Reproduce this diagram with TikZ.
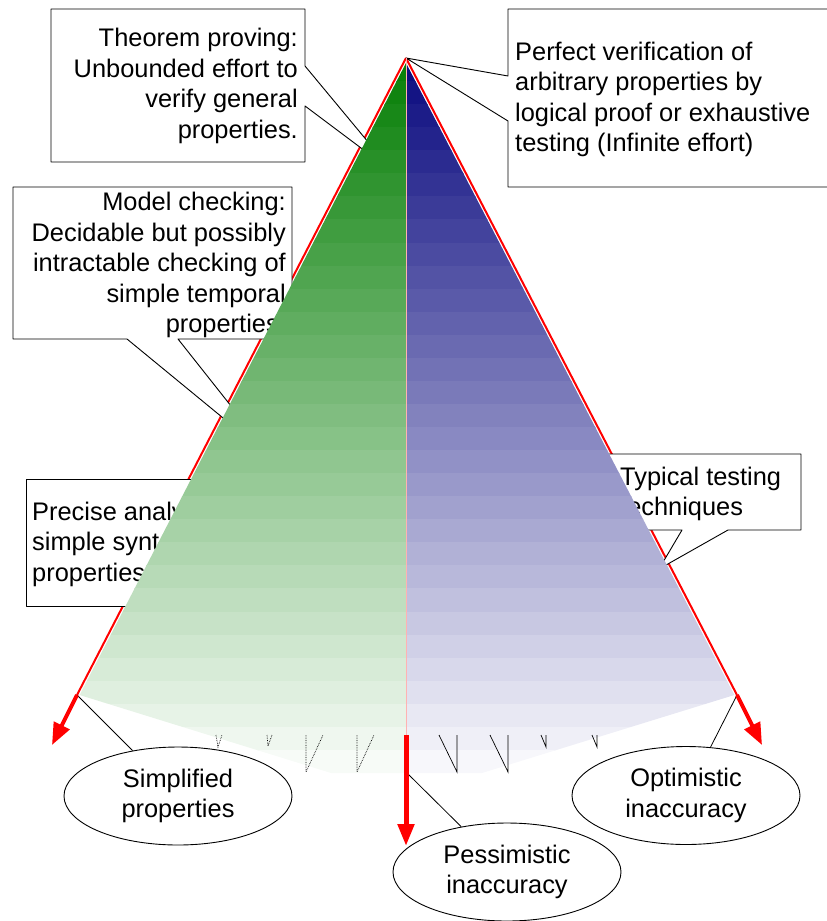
\documentclass[tikz,border=0pt]{standalone}
\usepackage{fontspec}
\setmainfont{Liberation Sans}
\usetikzlibrary{arrows.meta,shapes.geometric}
\definecolor{grn}{RGB}{8,128,8}
\definecolor{blu}{RGB}{12,12,128}
\begin{document}
\begin{tikzpicture}[x=1pt,y=-1pt,
  txt/.style={font=\fontsize{25.4}{30.5}\selectfont, inner sep=0pt},
  callout/.style={draw=black, line width=0.9pt, fill=white, line join=round},
  redge/.style={draw=red, line width=2pt},
  bigarrow/.style={draw=red, line width=4pt, -{Triangle[length=22pt,width=17pt]}},
  oval/.style={draw=black, line width=0.9pt, fill=white, ellipse, minimum width=228pt,
    minimum height=98pt, inner sep=0pt, align=center, font=\fontsize{25.4}{30.5}\selectfont},
  tick/.style={draw=black, line width=0.7pt},
  dtick/.style={draw=black, line width=0.7pt, densely dotted},
  ptr/.style={draw=black, line width=0.8pt}
]
\useasboundingbox (0,0) rectangle (827,921);

% key points of the pyramid
\coordinate (apex) at (406,58);
\coordinate (cl) at (77,695);
\coordinate (cr) at (737,695);
\coordinate (fapex) at (406,63);
\coordinate (fl) at (79.6,695);
\coordinate (fr) at (734.4,695);
\coordinate (bl) at (331,773);
\coordinate (br) at (482,773);
\coordinate (mid) at (406,772);
\coordinate (midarrow) at (406,735);
\coordinate (tl) at (52,745);
\coordinate (tr) at (762,745);
\coordinate (tm) at (406,846);

% thin red edges
\draw[redge] (apex) -- (cl);
\draw[redge] (apex) -- (cr);

% callout boxes (under the pyramid)
\path[callout] (51,9) -- (305,9) -- (305,66) -- (393,172) -- (305,106) -- (305,162) -- (51,162) -- cycle;
\node[txt, anchor=north east, align=right] (tp) at (298,25.35)
  {\strut Theorem proving:\\Unbounded effort to\\verify general\\properties.};

\path[callout] (508,9) -- (832,9) -- (832,187) -- (508,187) -- (508,121) -- (apex) -- (508,76) -- cycle;
\node[txt, anchor=north west, align=left] (pv) at (515,38.65)
  {\strut Perfect verification of\\arbitrary properties by\\logical proof or exhaustive\\testing (Infinite effort)};

\path[callout] (13,187) -- (292,187) -- (292,339) -- (178,339) -- (273,459) -- (127,339) -- (13,339) -- cycle;
\node[txt, anchor=north east, align=right] (mc) at (286,189.15)
  {\strut Model checking:\\Decidable but possibly\\intractable checking of\\simple temporal\\properties.};

\path[callout] (26,479) -- (250,479) -- (250,606) -- (26,606) -- cycle;
\node[txt, anchor=north west, align=left] (pa) at (32,498.65)
  {\strut Precise analysis of\\simple syntactic\\properties.};

\path[callout] (590,454) -- (801,454) -- (801,530) -- (728,530) -- (659,569) -- (682,530) -- (590,530) -- cycle;
\node[txt, anchor=north west, align=left] (tt) at (620,463.65)
  {\strut Typical testing\\techniques};

% gradient fill of the pyramid
\begin{scope}
  \clip (fapex) -- (fl) -- (bl) -- (br) -- (fr) -- cycle;
  \foreach \i in {0,...,30} {
    \pgfmathsetmacro\p{100-\i*3.2258}
    \pgfmathsetmacro\ya{58+\i*23.0645}
    \pgfmathsetmacro\yb{58+(\i+1)*23.0645+0.6}
    \fill[grn!\p!white] (0,\ya) rectangle (406,\yb);
    \fill[blu!\p!white] (406,\ya) rectangle (830,\yb);
  }
\end{scope}

% faint centre line
\draw[red!30, line width=1pt] (apex) -- (midarrow);

% small marks at the bottom
\draw[dtick] (216,735) -- (218,747) -- (222,735);
\draw[dtick] (267,735) -- (268,746) -- (272,735);
\draw[dtick] (306,735) -- (306,772) -- (323,735);
\draw[dtick] (357,735) -- (357,772) -- (374,735);
\draw[tick] (439,735) -- (457,772) -- (457,735);
\draw[tick] (490,735) -- (508,772) -- (508,735);
\draw[tick] (541,735) -- (546,747) -- (546,735);
\draw[tick] (592,735) -- (597,747) -- (597,735);

% ellipses
\node[oval] (simp) at (178,796) {Simplified\\properties};
\node[oval] (pess) at (507,872) {Pessimistic\\inaccuracy};
\node[oval] (opt) at (686,795.5) {Optimistic\\inaccuracy};

\draw[ptr] (cl) -- (simp);
\draw[ptr] (mid) -- (pess);
\draw[ptr] (cr) -- (opt);

% thick red arrows
\draw[bigarrow] (cl) -- (tl);
\draw[bigarrow] (cr) -- (tr);
\draw[draw=red, line width=5pt, -{Triangle[length=22pt,width=16pt]}] (midarrow) -- (tm);
\end{tikzpicture}
\end{document}
